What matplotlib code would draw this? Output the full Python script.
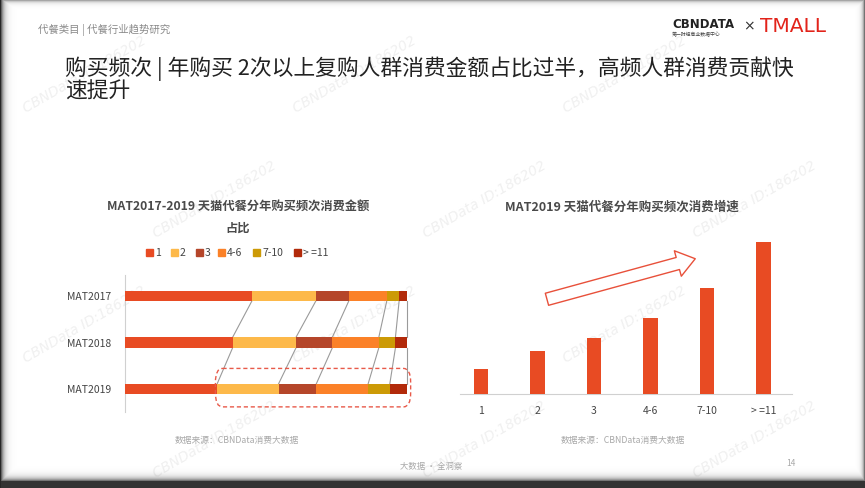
import numpy as np
import matplotlib
matplotlib.use("Agg")
import matplotlib.pyplot as plt
from matplotlib.patches import FancyBboxPatch, FancyArrowPatch, Rectangle

plt.rcParams['font.family'] = ['Noto Sans CJK SC', 'DejaVu Sans']

# ---------------- 数据 ----------------
years = ["MAT2017", "MAT2018", "MAT2019"]
freq_labels = ["1", "2", "3", "4-6", "7-10", "> =11"]
share_2017 = [45.0, 22.7, 11.7, 13.5, 4.4, 2.7]
share_2018 = [38.2, 22.5, 12.9, 16.5, 5.9, 4.0]
share_2019 = [32.7, 21.8, 13.4, 18.4, 7.7, 6.0]
growth_2019 = [25, 43, 56, 76, 106, 152]   # 相对增速 (无刻度, 估读)

seg_colors = ["#E84B23", "#FDB94A", "#B5462A", "#FB8128", "#CC9A06", "#B22A0A"]
bar_red = "#E84B23"

W, H = 865, 488
fig = plt.figure(figsize=(W / 100, H / 100), dpi=100)
fig.patch.set_facecolor("white")

# 背景层: 水印、页眉、页脚
bg = fig.add_axes([0, 0, 1, 1], zorder=0)
bg.set_xlim(0, W); bg.set_ylim(H, 0); bg.axis("off")
wm_rows = [(75, [20, 290, 560]), (200, [150, 420, 690]),
           (325, [20, 290, 560]), (440, [150, 420, 690])]
for y, xs in wm_rows:
    for x in xs:
        bg.text(x, y, "CBNData ID:186202", rotation=30, color="#f0f0f0",
                fontsize=10, style="italic", family="DejaVu Sans",
                ha="left", va="center")

bg.text(38, 30, "代餐类目 | 代餐行业趋势研究", fontsize=7.5, color="#8a8a8a", va="center")
bg.text(65, 69, "购买频次 | 年购买 2次以上复购人群消费金额占比过半，高频人群消费贡献快",
        fontsize=15.7, color="#222222", va="center")
bg.text(65, 92, "速提升", fontsize=15.7, color="#222222", va="center")

# logo
bg.text(672, 24, "CBNDATA", fontsize=8.5, weight="bold", color="#222222",
        family="DejaVu Sans", va="center")
bg.text(672, 35, "第一财经商业数据中心", fontsize=3.5, color="#444444", va="center")
bg.text(748.5, 26, "×", fontsize=10, color="#333333", ha="center", va="center",
        family="DejaVu Sans")
bg.text(760, 27, "TMALL", fontsize=14.5, color="#E2231A", family="DejaVu Sans",
        va="center")

bg.text(237, 440, "数据来源：CBNData消费大数据", fontsize=6.3, color="#a8a8a8", ha="center", va="center")
bg.text(623, 440, "数据来源：CBNData消费大数据", fontsize=6.3, color="#a8a8a8", ha="center", va="center")
bg.text(431, 467, "大数据 · 全洞察", fontsize=6, color="#a8a8a8", ha="center", va="center")
bg.text(791, 464, "14", fontsize=6, color="#a8a8a8", ha="center", va="center")

# 图表标题 / 图例
bg.text(238, 206, "MAT2017-2019 天猫代餐分年购买频次消费金额", fontsize=8.8,
        weight="bold", color="#4a4a4a", ha="center", va="center")
bg.text(238, 228, "占比", fontsize=8.8, weight="bold", color="#4a4a4a", ha="center", va="center")
bg.text(622, 207, "MAT2019 天猫代餐分年购买频次消费增速", fontsize=9,
        weight="bold", color="#4a4a4a", ha="center", va="center")

lx = [146, 171, 196, 218, 253, 294]
for x, lab, c in zip(lx, freq_labels, seg_colors):
    bg.add_patch(Rectangle((x, 249), 6.5, 6.5, color=c))
    bg.text(x + 9, 252.5, lab, fontsize=7.5, color="#444444", va="center")

# ---------------- 左图: 堆叠条 ----------------
shares = np.array([share_2017, share_2018, share_2019])
ax1 = fig.add_axes([125 / W, 1 - 412 / H, 281.7 / W, 137 / H], zorder=2)
ax1.patch.set_alpha(0)
ypos = np.arange(len(years))
bh = 0.226
left = np.zeros(len(years))
for k, c in enumerate(seg_colors):
    ax1.barh(ypos, shares[:, k], left=left, height=bh, color=c, zorder=3)
    left = left + shares[:, k]
ax1.set_xlim(0, 100)
ax1.set_ylim(2.49, -0.45)
ax1.set_yticks(ypos)
ax1.set_yticklabels(years, fontsize=7.5, color="#444444")
ax1.set_xticks([])
ax1.tick_params(axis="y", length=0, pad=10)
for s in ["top", "right", "bottom"]:
    ax1.spines[s].set_visible(False)
ax1.spines["left"].set_color("#d0d0d0")

# 连接线
cum = np.cumsum(shares, axis=1)
for i in range(len(years) - 1):
    for k in range(cum.shape[1]):
        ax1.plot([cum[i, k], cum[i + 1, k]], [i + bh / 2, i + 1 - bh / 2],
                 color="#9a9a9a", lw=0.8, zorder=2, clip_on=False)

# 虚线框
x0 = cum[2, 0] - 0.6
box = FancyBboxPatch((x0, 2 - 0.445), 101.4 - x0, 0.825,
                     boxstyle="round,pad=0,rounding_size=2.5",
                     mutation_aspect=0.12,
                     fill=False, ec="#E85A4A", ls=(0, (3, 2)), lw=1.0,
                     clip_on=False, zorder=4)
ax1.add_patch(box)

# ---------------- 右图: 增速柱 ----------------
ax2 = fig.add_axes([460 / W, 1 - 394 / H, 331.7 / W, 154 / H], zorder=2)
ax2.patch.set_alpha(0)
xpos = np.arange(len(freq_labels))
ax2.bar(xpos, growth_2019, width=0.25, color=bar_red, zorder=3)
ax2.set_xlim(-0.372, 5.5)
ax2.set_ylim(0, 154)
ax2.set_yticks([])
ax2.set_xticks(xpos)
ax2.set_xticklabels(freq_labels, fontsize=7.5, color="#444444")
ax2.tick_params(axis="x", length=0, pad=9)
for s in ["top", "right", "left"]:
    ax2.spines[s].set_visible(False)
ax2.spines["bottom"].set_color("#d0d0d0")

arrow = FancyArrowPatch((1.12, 94), (3.84, 136),
                        arrowstyle="simple,tail_width=9,head_width=19,head_length=13",
                        mutation_scale=1, fc="white", ec="#E8503A", lw=1.0,
                        clip_on=False, zorder=4)
ax2.add_patch(arrow)

# ---------------- 边框阴影 ----------------
xx = np.arange(W)[None, :]
yy = np.arange(H)[:, None]
dark = np.maximum.reduce([
    0.85 * np.exp(-xx / 3.0) * np.ones((H, 1)),
    0.55 * np.exp(-(W - 1 - xx) / 2.0) * np.ones((H, 1)),
    0.35 * np.exp(-yy / 2.0) * np.ones((1, W)),
    np.where(yy >= 481, 0.8, 0.75 * np.exp(-(481 - yy) / 3.0)) * np.ones((1, W)),
])
img = np.zeros((H, W, 4))
img[..., 3] = dark
ov = fig.add_axes([0, 0, 1, 1], zorder=10)
ov.imshow(img, extent=(0, W, H, 0), aspect="auto", interpolation="bilinear")
ov.axis("off")

fig.savefig("out.png", dpi=100)
